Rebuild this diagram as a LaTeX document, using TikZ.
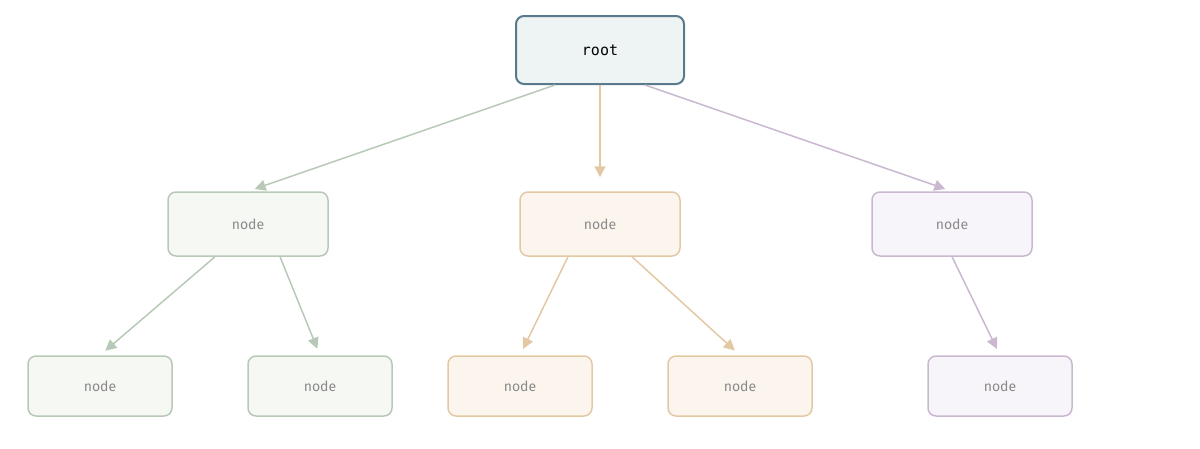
\documentclass[tikz,border=0pt]{standalone}
\usepackage{fontspec}
\setmainfont{Fira Sans}
\setmonofont{DejaVu Sans Mono}
\usetikzlibrary{arrows.meta,calc}
\definecolor{rb}{HTML}{5A7A8C}\definecolor{rf}{HTML}{EEF3F3}
\definecolor{gb}{HTML}{B8C9B8}\definecolor{gf}{HTML}{F6F8F4}
\definecolor{ob}{HTML}{E3C9A3}\definecolor{of}{HTML}{FBF5EE}
\definecolor{pb}{HTML}{C9B8CF}\definecolor{pf}{HTML}{F8F5FA}
\definecolor{tx}{HTML}{8A8A8A}
\begin{document}
\begin{tikzpicture}[x=1pt,y=-1pt,
 box/.style={draw,rounded corners=8pt,line width=1.5pt,text=tx,font=\fontsize{14}{16}\selectfont,inner sep=0pt},
 mid/.style={box,minimum width=160pt,minimum height=64pt},
 low/.style={box,minimum width=144pt,minimum height=60pt},
 G/.style={draw=gb,fill=gf},O/.style={draw=ob,fill=of},P/.style={draw=pb,fill=pf},
 ar/.style={line width=1.5pt,-{Triangle[length=11pt,width=11pt]}}]
\useasboundingbox (0,0) rectangle (1200,448);
\node[box,draw=rb,fill=rf,text=black,font=\ttfamily\fontsize{15}{17}\selectfont,minimum width=168pt,minimum height=68pt,line width=2pt] (r) at (600,50) {root};
\node[mid,G] (g) at (248,224) {node};
\node[mid,O] (o) at (600,224) {node};
\node[mid,P] (p) at (952,224) {node};
\node[low,G] (g1) at (100,386) {node};
\node[low,G] (g2) at (320,386) {node};
\node[low,O] (o1) at (520,386) {node};
\node[low,O] (o2) at (740,386) {node};
\node[low,P] (p1) at (1000,386) {node};
\draw[ar,gb,shorten >=7pt] ($(r.south)+(-45,0)$) -- (g.north);
\draw[ar,ob,shorten >=14pt] (r.south) -- (o.north);
\draw[ar,pb,shorten >=7pt] ($(r.south)+(45,0)$) -- (p.north);
\draw[ar,gb,shorten >=7pt] ($(g.south)+(-33,0)$) -- (g1.north);
\draw[ar,gb,shorten >=7pt] ($(g.south)+(32,0)$) -- (g2.north);
\draw[ar,ob,shorten >=7pt] ($(o.south)+(-32,0)$) -- (o1.north);
\draw[ar,ob,shorten >=7pt] ($(o.south)+(32,0)$) -- (o2.north);
\draw[ar,pb,shorten >=7pt] (p.south) -- (p1.north);
\end{tikzpicture}
\end{document}
